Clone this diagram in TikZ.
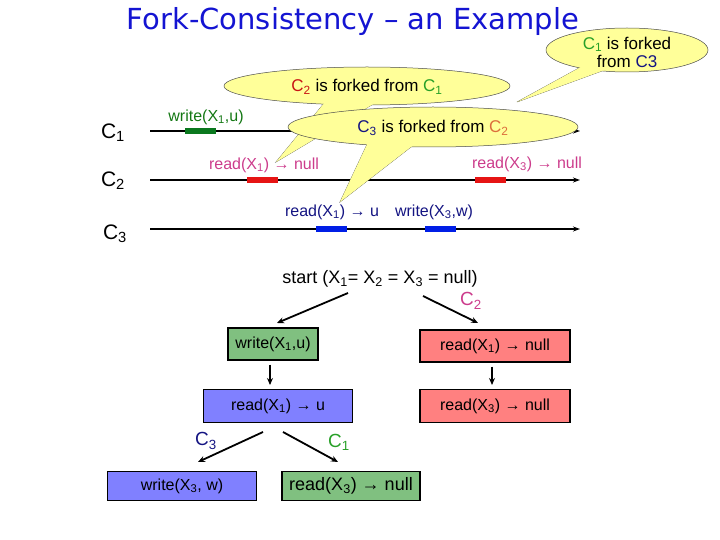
\documentclass[tikz,border=0pt]{standalone}
\usepackage{fontspec}
\setmainfont{Liberation Sans}
\newfontfamily\titlefont{DejaVu Sans}
\newcommand\lsub[1]{\textsubscript{#1}}
\usetikzlibrary{arrows.meta}
\definecolor{tblue}{RGB}{20,20,210}
\definecolor{cgreen}{RGB}{40,160,40}
\definecolor{dgreen}{RGB}{20,120,20}
\definecolor{cpink}{RGB}{204,60,140}
\definecolor{cnavy}{RGB}{20,20,130}
\definecolor{corange}{RGB}{220,110,60}
\definecolor{cred}{RGB}{200,20,20}
\definecolor{bubble}{RGB}{255,255,153}
\definecolor{gfill}{RGB}{128,192,128}
\definecolor{rfill}{RGB}{255,128,128}
\definecolor{bfill}{RGB}{128,128,255}
\definecolor{barblue}{RGB}{0,30,230}
\definecolor{barred}{RGB}{230,20,20}
\definecolor{bargreen}{RGB}{10,120,30}
\begin{document}
\begin{tikzpicture}[x=1pt,y=-1pt,
  lbl/.style={font=\fontsize{16}{18}\selectfont, inner sep=0pt},
  proc/.style={font=\fontsize{21}{23}\selectfont, inner sep=0pt},
  tline/.style={line width=1.6pt,-{Stealth[length=7pt,width=5pt]}},
  bar/.style={minimum width=31pt,minimum height=6pt,inner sep=0pt},
  box/.style={draw=black,line width=1.4pt,inner sep=0pt,font=\fontsize{16}{18}\selectfont},
  arr/.style={line width=1.8pt,-{Stealth[length=7pt,width=6pt]}},
  bub/.style={fill=bubble,draw=black!70,line width=0.5pt}]
\useasboundingbox (0,0) rectangle (720,540);
\node[font=\titlefont\fontsize{29}{32}\selectfont,text=tblue,inner sep=0pt] (title) at (353,22) {Fork-Consistency – an Example};

% processes
\node[proc] (p1) at (113,133) {C\lsub{1}};
\node[proc] (p2) at (113,181) {C\lsub{2}};
\node[proc] (p3) at (115,234) {C\lsub{3}};
\coordinate (s1) at (150,131); \coordinate (e1) at (580,131);
\coordinate (s2) at (150,180); \coordinate (e2) at (580,180);
\coordinate (s3) at (150,229); \coordinate (e3) at (580,229);
\draw[tline] (s1) -- (e1);
\draw[tline] (s2) -- (e2);
\draw[tline] (s3) -- (e3);
\node[bar,fill=bargreen] (b1) at (200,131) {};
\node[bar,fill=barred] (b2) at (262,180) {};
\node[bar,fill=barred] (b3) at (490,180) {};
\node[bar,fill=barblue] (b4) at (331,229) {};
\node[bar,fill=barblue] (b5) at (440,229) {};
\node[lbl,text=dgreen] (l1) at (206,117) {write(X\lsub{1},u)};
\node[lbl,text=cpink] (l2) at (264,165) {read(X\lsub{1}) → null};
\node[lbl,text=cpink] (l3) at (527,164) {read(X\lsub{3}) → null};
\node[lbl,text=cnavy] (l4) at (332,212) {read(X\lsub{1}) → u};
\node[lbl,text=cnavy] (l5) at (434,212) {write(X\lsub{3},w)};

% bubble C2 forked from C1
\draw[bub] (330,96) -- (276,162) -- (380,100) -- cycle;
\draw[bub] (367,86) ellipse [x radius=143,y radius=19];
\fill[bubble] (330,96) -- (276,162) -- (380,100) -- cycle;
\node[lbl,font=\fontsize{17}{19}\selectfont] (t1) at (367,87) {\textcolor{cred}{C\lsub{2}} is forked from \textcolor{cgreen}{C\lsub{1}}};
% bubble C1 forked from C3
\draw[bub] (590,62) -- (517,102) -- (610,68) -- cycle;
\draw[bub] (627,50) ellipse [x radius=81,y radius=22];
\fill[bubble] (590,62) -- (517,102) -- (610,68) -- cycle;
\node[lbl,align=center,font=\fontsize{17}{18}\selectfont] (t3) at (627,52) {\textcolor{cgreen}{C\lsub{1}} is forked\\from \textcolor{cnavy}{C3}};
% bubble C3 forked from C2
\draw[bub] (370,138) -- (340,202) -- (420,140) -- cycle;
\draw[bub] (433,127) ellipse [x radius=145,y radius=20];
\fill[bubble] (370,138) -- (340,202) -- (420,140) -- cycle;
\node[lbl,font=\fontsize{17}{19}\selectfont] (t2) at (433,128) {\textcolor{cnavy}{C\lsub{3}} is forked from \textcolor{corange}{C\lsub{2}}};

% tree
\node[lbl,font=\fontsize{18}{20}\selectfont] (start) at (380,279) {start (X\lsub{1}= X\lsub{2} = X\lsub{3} = null)};
\node[box,fill=gfill,minimum width=90pt,minimum height=32pt] (w1) at (273,344) {write(X\lsub{1},u)};
\node[box,fill=rfill,minimum width=150pt,minimum height=32pt] (r1) at (495,346) {read(X\lsub{1}) → null};
\node[box,fill=bfill,minimum width=149pt,minimum height=33pt] (r2) at (278,406) {read(X\lsub{1}) → u};
\node[box,fill=rfill,minimum width=150pt,minimum height=33pt] (r3) at (495,406) {read(X\lsub{3}) → null};
\node[box,fill=bfill,minimum width=149pt,minimum height=29pt] (w3) at (182,486) {write(X\lsub{3}, w)};
\node[box,fill=gfill,minimum width=138pt,minimum height=29pt,font=\fontsize{18}{20}\selectfont] (r4) at (351,486) {read(X\lsub{3}) → null};
\draw[arr] (348,293) -- (277,323);
\draw[arr] (423,296) -- (478,323);
\draw[arr] (w1.south -| 270,0) ++(0,4) -- (270,385);
\draw[arr] (r1.south -| 492,0) ++(0,4) -- (492,385);
\draw[arr] (263,432) -- (198,462);
\draw[arr] (283,432) -- (338,462);
\node[proc,font=\fontsize{19}{21}\selectfont,text=cpink] (c2) at (471,301) {C\lsub{2}};
\node[proc,font=\fontsize{19}{21}\selectfont,text=cnavy] (c3) at (206,441) {C\lsub{3}};
\node[proc,font=\fontsize{19}{21}\selectfont,text=cgreen] (c1) at (339,442) {C\lsub{1}};
\end{tikzpicture}
\end{document}
